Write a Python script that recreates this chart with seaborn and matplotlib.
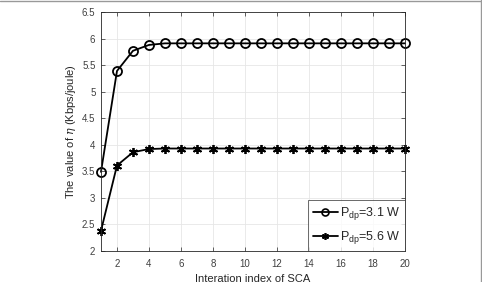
import numpy as np
import pandas as pd
import matplotlib
matplotlib.use('Agg')
import matplotlib.pyplot as plt
import seaborn as sns
from matplotlib.lines import Line2D

iteraciones = list(range(1, 21))
eta_31 = [3.49, 5.39, 5.77, 5.88, 5.91, 5.91, 5.91, 5.91, 5.91, 5.91,
          5.91, 5.91, 5.91, 5.91, 5.91, 5.91, 5.91, 5.91, 5.91, 5.91]
eta_56 = [2.38, 3.61, 3.86, 3.92, 3.93, 3.93, 3.93, 3.93, 3.93, 3.93,
          3.93, 3.93, 3.93, 3.93, 3.93, 3.93, 3.93, 3.93, 3.93, 3.93]
etiquetas = ['P$_{\\mathrm{dp}}$=3.1 W', 'P$_{\\mathrm{dp}}$=5.6 W']
yticks = [2, 2.5, 3, 3.5, 4, 4.5, 5, 5.5, 6, 6.5]
xticks = [2, 4, 6, 8, 10, 12, 14, 16, 18, 20]

sns.set_style('whitegrid')
plt.rcParams['font.family'] = ['Liberation Sans', 'DejaVu Sans']
plt.rcParams['mathtext.fontset'] = 'custom'
plt.rcParams['mathtext.rm'] = 'Liberation Sans'
plt.rcParams['mathtext.it'] = 'DejaVu Serif:italic'

fig = plt.figure(figsize=(4.82, 2.82), dpi=100)
ax = fig.add_axes([0.2095, 0.1099, 0.6307, 0.8475])

sns.lineplot(x=iteraciones, y=eta_31, color='black', linewidth=1.3,
             marker='o', markersize=6.5, markerfacecolor='none',
             markeredgecolor='black', markeredgewidth=1.3, clip_on=False, ax=ax)
sns.lineplot(x=iteraciones, y=eta_56, color='black', linewidth=1.3,
             marker=(6, 2, 0), markersize=6.5, markeredgecolor='black',
             markeredgewidth=1.3, clip_on=False, ax=ax)

ax.set_xlim(1, 20)
ax.set_ylim(2, 6.5)
ax.set_xticks(xticks)
ax.set_yticks(yticks)
ax.set_yticklabels([('%g' % v) for v in yticks])
ax.grid(True, color='#e6e6e6', linewidth=0.6)
for s in ax.spines.values():
    s.set_color('#262626')
    s.set_linewidth(0.6)
ax.tick_params(axis='both', direction='in', length=3, width=0.5, colors='#262626',
               labelsize=7, labelcolor='#404040', top=True, right=True,
               bottom=True, left=True)
ax.tick_params(axis='x', pad=6)
ax.tick_params(axis='y', pad=4)
ax.set_xlabel('Interation index of SCA', fontsize=8, color='#262626', labelpad=3)
ax.set_ylabel('The value of $\\eta$ (Kbps/joule)', fontsize=8, color='#262626', labelpad=3)

h = [Line2D([], [], color='black', lw=1.3, marker='o', ms=5, mfc='none', mew=1.2),
     Line2D([], [], color='black', lw=1.3, marker=(6, 2, 0), ms=5, mew=1.2)]
leg = ax.legend(h, etiquetas, loc='lower right', fontsize=9, frameon=True,
                fancybox=False, borderaxespad=0, handlelength=2.0,
                handletextpad=0.15, borderpad=0.4, labelspacing=0.55)
leg.get_frame().set_edgecolor('#262626')
leg.get_frame().set_linewidth(0.6)
for t in leg.get_texts():
    t.set_color('#262626')

# borde de la imagen
fig.add_artist(Line2D([0, 1], [0.997, 0.997], color='#999999', lw=1, transform=fig.transFigure))
fig.add_artist(Line2D([0.997, 0.997], [0, 1], color='#999999', lw=1, transform=fig.transFigure))

fig.savefig('out.png', dpi=100)
